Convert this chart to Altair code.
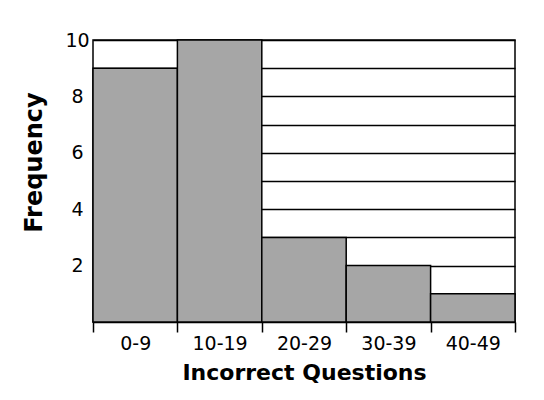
import altair as alt
import pandas as pd

bin_start = [0, 10, 20, 30, 40]
bin_end = [10, 20, 30, 40, 50]
labels = ["0-9", "10-19", "20-29", "30-39", "40-49"]
freq = [9, 10, 3, 2, 1]

df = pd.DataFrame({"start": bin_start, "end": bin_end, "label": labels, "freq": freq})

label_map = "{" + ",".join(f"'{s + 5}':'{l}'" for s, l in zip(bin_start, labels)) + "}"

FONT = "DejaVu Sans"

bars = alt.Chart(df).mark_bar(color="#a6a6a6", stroke="black", strokeWidth=1.5).encode(
    x=alt.X("start:Q", scale=alt.Scale(domain=[0, 50], nice=False, zero=False),
            axis=alt.Axis(
                values=[0, 5, 10, 15, 20, 25, 30, 35, 40, 45, 50],
                labelExpr=f"({label_map})[''+datum.value] || ''",
                tickOpacity={"condition": {"test": "datum.value % 10 == 0", "value": 1}, "value": 0},
                tickSize=10, tickColor="black", tickWidth=1.5,
                domainColor="black", domainWidth=1.5,
                labelFontSize=19, labelColor="black", labelFont=FONT, labelPadding=2,
                labelFlush=False,
                grid=False,
                title="Incorrect Questions", titleFontSize=22, titleFont=FONT,
                titleFontWeight="bold", titleColor="black", titlePadding=9)),
    x2="end:Q",
    y=alt.Y("freq:Q", scale=alt.Scale(domain=[0, 10], nice=False),
            axis=alt.Axis(
                values=[1, 2, 3, 4, 5, 6, 7, 8, 9, 10],
                labelExpr="datum.value % 2 == 0 ? datum.label : ''",
                ticks=False, domain=False,
                grid=True, gridColor="black", gridWidth=1.5, gridOpacity=1,
                labelFontSize=19, labelColor="black", labelFont=FONT, labelPadding=16,
                labelAlign="center",
                title="Frequency", titleFontSize=24, titleFont=FONT,
                titleFontWeight="bold", titleColor="black",
                titleX=-47, titleY=122, titleBaseline="bottom", titleAngle=270)),
    y2=alt.datum(0),
).properties(
    width=422, height=282,
    autosize=alt.AutoSizeParams(type="none"),
    padding={"left": 85, "top": 32, "right": 20, "bottom": 70},
).configure_view(stroke="black", strokeWidth=1.5)

chart = bars
chart.save("out.html", embed_options={"renderer": "svg", "actions": False})
